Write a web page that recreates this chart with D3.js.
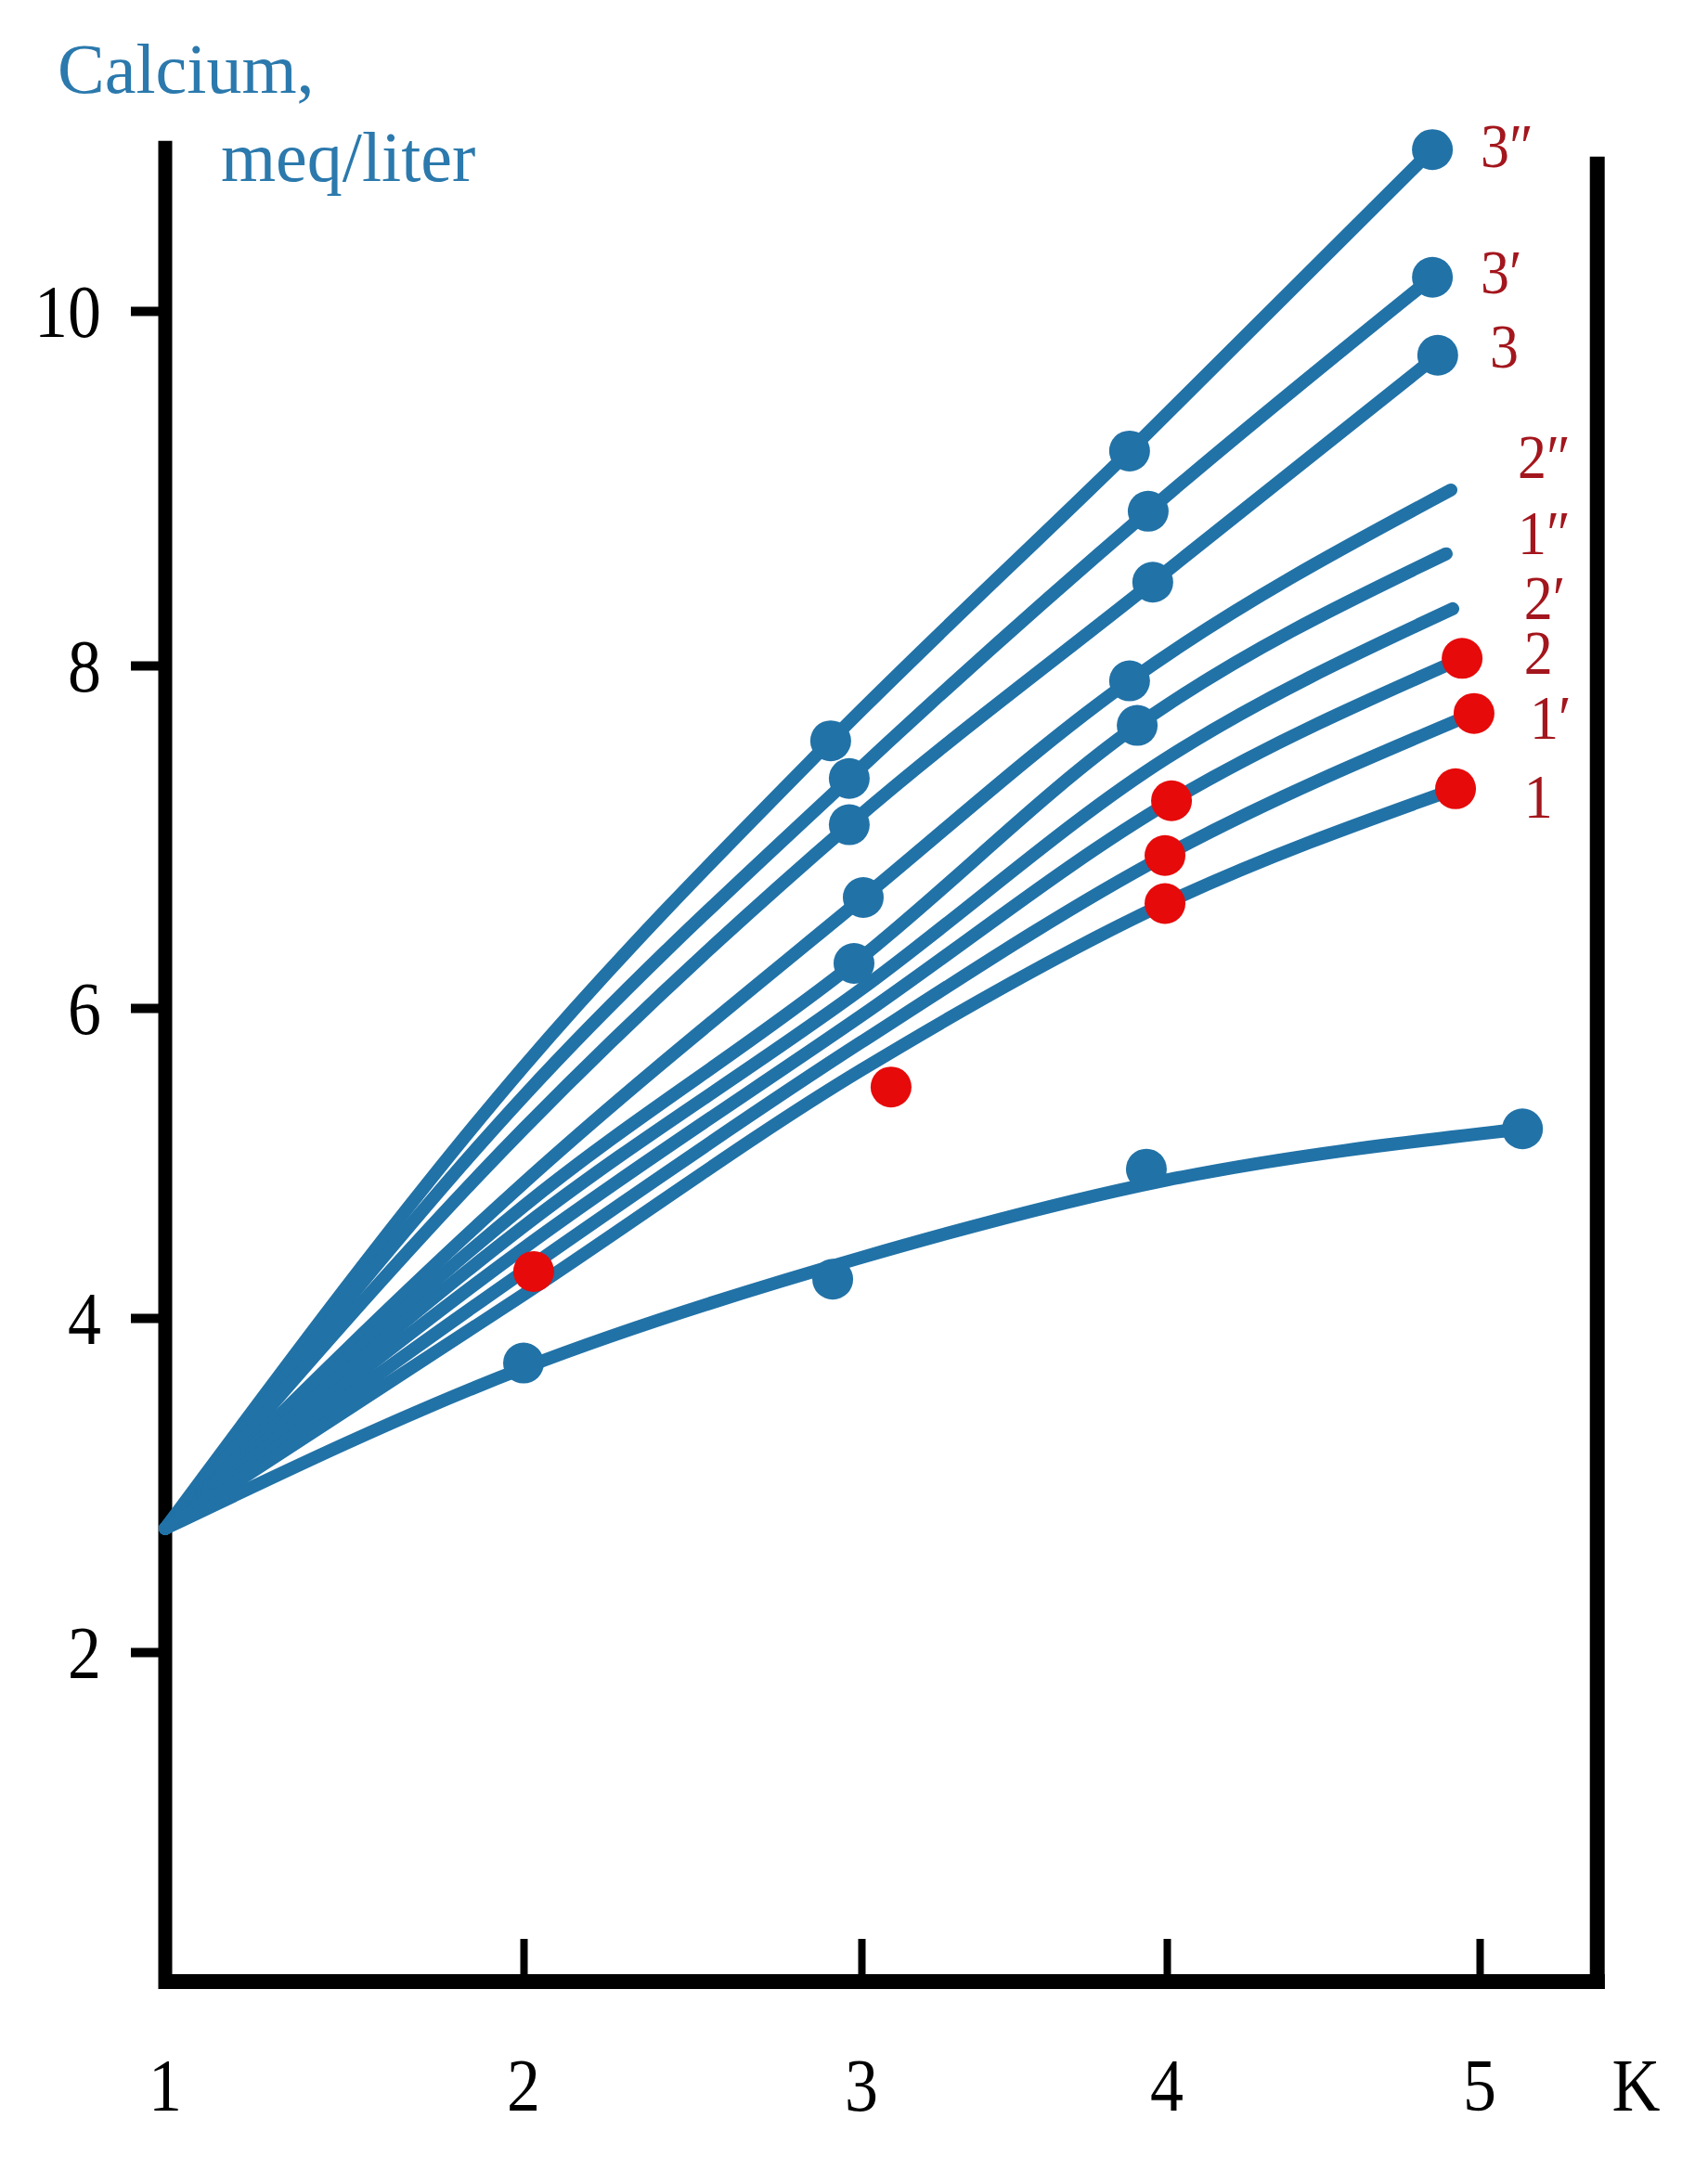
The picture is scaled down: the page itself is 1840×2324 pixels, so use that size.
<!DOCTYPE html>
<html>
<head>
<meta charset="utf-8">
<script src="https://cdn.jsdelivr.net/npm/d3@7"></script>
<style>
  body { margin: 0; background: #fff; }
  text { font-family: "Liberation Serif", "DejaVu Serif", serif; }
</style>
</head>
<body>
<div id="chart"></div>
<script>
// tick labels
const xTicks = [1, 2, 3, 4, 5];
const yTicks = [2, 4, 6, 8, 10];

// curves, [K, calcium]
const curve3pp = [[1, 2.74], [2, 5.62], [2.909, 7.56], [3.878, 9.21], [4.849, 10.91]];
const curve3p  = [[1, 2.74], [2, 5.43], [2.964, 7.34], [3.939, 8.87], [4.849, 10.19]];
const curve3   = [[1, 2.74], [2, 5.22], [2.964, 7.07], [3.954, 8.47], [4.866, 9.75]];
const curve2pp = [[1, 2.74], [2, 4.87], [3.006, 6.645], [3.878, 7.91], [4.908, 8.99]];
const curve1pp = [[1, 2.74], [2, 4.72], [2.978, 6.26], [3.903, 7.65], [4.893, 8.63]];
const curve2p  = [[1, 2.74], [2, 4.59], [3, 6.11], [4, 7.46], [4.914, 8.32]];
const curve2   = [[1, 2.74], [2, 4.45], [3, 5.95], [4.015, 7.21], [4.944, 8.04]];
const curve1p  = [[1, 2.74], [2, 4.30], [3, 5.78], [3.994, 6.89], [4.982, 7.72]];
const curve1   = [[1, 2.74], [2, 4.15], [3, 5.60], [3.994, 6.61], [4.923, 7.28]];
const curve0   = [[1, 2.74], [2, 3.70], [3, 4.39], [4, 4.89], [5.137, 5.22]];

const curveNames = ['3″', '3′', '3', '2″', '1″', '2′', '2', '1′', '1'];
const labelPos = [[5.003, 10.81], [5.003, 10.10], [5.033, 9.68], [5.122, 9.06], [5.122, 8.63],
                  [5.142, 8.26], [5.142, 7.95], [5.160, 7.57], [5.142, 7.11]];

const blueDots = [[2.909, 7.56], [3.878, 9.21], [4.849, 10.91],
                  [2.964, 7.34], [3.939, 8.87], [4.849, 10.19],
                  [2.964, 7.07], [3.954, 8.47], [4.866, 9.75],
                  [3.006, 6.645], [3.878, 7.91],
                  [2.978, 6.26], [3.903, 7.65],
                  [2.0, 3.73], [2.915, 4.25], [3.933, 4.96], [5.137, 5.22]];
const redDots = [[4.015, 7.21], [4.944, 8.04], [3.994, 6.89], [4.982, 7.72],
                 [3.994, 6.61], [4.923, 7.28], [2.03, 4.30], [3.097, 5.49]];

const curves = [curve3pp, curve3p, curve3, curve2pp, curve1pp, curve2p, curve2, curve1p, curve1, curve0];

const W = 1840, H = 2324;
const blue = '#2172a7';
const red = '#e60a0a';
const darkRed = '#a3161d';

// the hand drawn axes are not evenly spaced, so the scales are piecewise
const x = d3.scaleLinear().domain([1, 2, 3, 4, 5]).range([178, 564, 928, 1257, 1594]);
const y = d3.scaleLinear().domain([0, 2, 4, 6, 8, 10]).range([2135, 1780, 1420, 1086, 717, 335]);

const svg = d3.select('#chart')
  .append('svg')
  .attr('width', W)
  .attr('height', H);

// frame
const frame = svg.append('g').attr('stroke', '#000').attr('fill', 'none');
frame.append('line')
  .attr('x1', x(1)).attr('x2', x(1))
  .attr('y1', y(0) + 8).attr('y2', y(10.96))
  .attr('stroke-width', 15);
frame.append('line')
  .attr('x1', x(5.376)).attr('x2', x(5.376))
  .attr('y1', y(0) + 8).attr('y2', y(10.87))
  .attr('stroke-width', 16);
frame.append('line')
  .attr('x1', x(1) - 7).attr('x2', x(5.40))
  .attr('y1', y(0)).attr('y2', y(0))
  .attr('stroke-width', 16);

// ticks
const yAxis = svg.append('g')
  .attr('transform', `translate(${x(1) - 7},0)`)
  .call(d3.axisLeft(y).tickValues(yTicks).tickSize(30).tickFormat(''));
yAxis.select('.domain').remove();
yAxis.selectAll('.tick line').attr('stroke', '#000').attr('stroke-width', 10);

const xAxis = svg.append('g')
  .attr('transform', `translate(0,${y(0) - 8})`)
  .call(d3.axisBottom(x).tickValues(xTicks.slice(1)).tickSize(-38).tickFormat(''));
xAxis.select('.domain').remove();
xAxis.selectAll('.tick line').attr('stroke', '#000').attr('stroke-width', 8);

// tick labels
svg.append('g').selectAll('text')
  .data(yTicks)
  .join('text')
  .attr('transform', d => `translate(${x(1) - 69},${y(d)}) scale(1,1.12)`)
  .attr('dy', '0.35em')
  .attr('text-anchor', 'end')
  .attr('font-size', 72)
  .attr('fill', '#000')
  .text(d => d);

svg.append('g').selectAll('text')
  .data(xTicks)
  .join('text')
  .attr('transform', d => `translate(${x(d)},2274) scale(1,1.12)`)
  .attr('text-anchor', 'middle')
  .attr('font-size', 72)
  .attr('fill', '#000')
  .text(d => d);

svg.append('text')
  .attr('transform', `translate(${x(5.5)},2274) scale(1,1.12)`)
  .attr('text-anchor', 'middle')
  .attr('font-size', 72)
  .text('K');

// axis title
const title = svg.append('g').attr('fill', '#2b79ad').attr('font-size', 76);
title.append('text').attr('x', 62).attr('y', 100).text('Calcium,');
title.append('text').attr('x', 238).attr('y', 195).text('meq/liter');

// curves
const line = d3.line()
  .x(d => x(d[0]))
  .y(d => y(d[1]))
  .curve(d3.curveMonotoneX);

svg.append('g').selectAll('path')
  .data(curves)
  .join('path')
  .attr('d', line)
  .attr('fill', 'none')
  .attr('stroke', blue)
  .attr('stroke-width', 14)
  .attr('stroke-linecap', 'round');

// points
svg.append('g').selectAll('circle')
  .data(blueDots)
  .join('circle')
  .attr('cx', d => x(d[0]))
  .attr('cy', d => y(d[1]))
  .attr('r', 22)
  .attr('fill', blue);

svg.append('g').selectAll('circle')
  .data(redDots)
  .join('circle')
  .attr('cx', d => x(d[0]))
  .attr('cy', d => y(d[1]))
  .attr('r', 22)
  .attr('fill', red);

// curve labels
svg.append('g').selectAll('text')
  .data(curveNames)
  .join('text')
  .attr('transform', (d, i) => `translate(${x(labelPos[i][0])},${y(labelPos[i][1])}) scale(1,1.1)`)
  .attr('font-size', 62)
  .attr('fill', darkRed)
  .text(d => d);
</script>
</body>
</html>
